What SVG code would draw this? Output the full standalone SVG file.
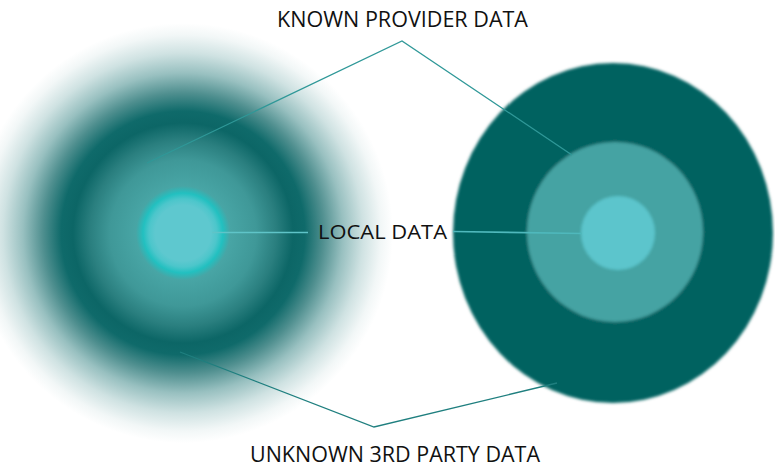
<svg xmlns="http://www.w3.org/2000/svg" width="775" height="467" viewBox="0 0 775 467">
<style>
.lbl{font-family:"Open Sans","Liberation Sans",sans-serif;fill:#111;}
.con{fill:none;stroke:#2f9898;stroke-width:1.3;}
</style>
<defs>
<radialGradient id="blurG" cx="183" cy="233" r="210" gradientUnits="userSpaceOnUse">
<stop offset="0" stop-color="#5ec8cf"/>
<stop offset="0.133" stop-color="#5ec8cf"/>
<stop offset="0.162" stop-color="#4cc6cb"/>
<stop offset="0.19" stop-color="#22c0c0"/>
<stop offset="0.224" stop-color="#48a5a5"/>
<stop offset="0.348" stop-color="#3f9898"/>
<stop offset="0.443" stop-color="#2a7f7f"/>
<stop offset="0.524" stop-color="#0c6666"/>
<stop offset="0.58" stop-color="#0f6a6a"/>
<stop offset="0.667" stop-color="#4f8f8f"/>
<stop offset="0.762" stop-color="#98c0c0"/>
<stop offset="0.857" stop-color="#cfe2e2"/>
<stop offset="0.943" stop-color="#f2f7f7"/>
<stop offset="1" stop-color="#ffffff"/>
</radialGradient>
<filter id="soft" x="-10%" y="-10%" width="120%" height="120%">
<feGaussianBlur stdDeviation="1.6"/>
</filter>
</defs>
<rect width="775" height="467" fill="#ffffff"/>
<g id="blurred-circle">
<circle cx="183" cy="233" r="210" fill="url(#blurG)"/>
</g>
<g id="sharp-circle" filter="url(#soft)">
<ellipse cx="613" cy="233" rx="160" ry="170" fill="#056260"/>
<ellipse cx="615" cy="232" rx="88" ry="90" fill="#45a3a3"/>
<circle cx="618" cy="233" r="37" fill="#5bc5cc"/>
</g>
<g id="connectors">
<polyline class="con" points="147,163 402,41 572,155"/>
<polyline class="con" points="180,352 374,427 557,383" style="stroke:#1f7f7f"/>
<line class="con" x1="212" y1="232.5" x2="308" y2="232.5" style="stroke:#5fc4c8;stroke-width:1.6"/>
<line class="con" x1="453" y1="231.5" x2="582" y2="233.5" style="stroke:#4fb8bc;stroke-width:1.6"/>
</g>
<g id="label-known">
<text class="lbl" x="277" y="27" font-size="22" textLength="251" lengthAdjust="spacingAndGlyphs">KNOWN PROVIDER DATA</text>
</g>
<g id="label-local">
<text class="lbl" x="318" y="238.5" font-size="20" textLength="129" lengthAdjust="spacingAndGlyphs">LOCAL DATA</text>
</g>
<g id="label-unknown">
<text class="lbl" x="250" y="462" font-size="22" textLength="290" lengthAdjust="spacingAndGlyphs">UNKNOWN 3RD PARTY DATA</text>
</g>
</svg>
